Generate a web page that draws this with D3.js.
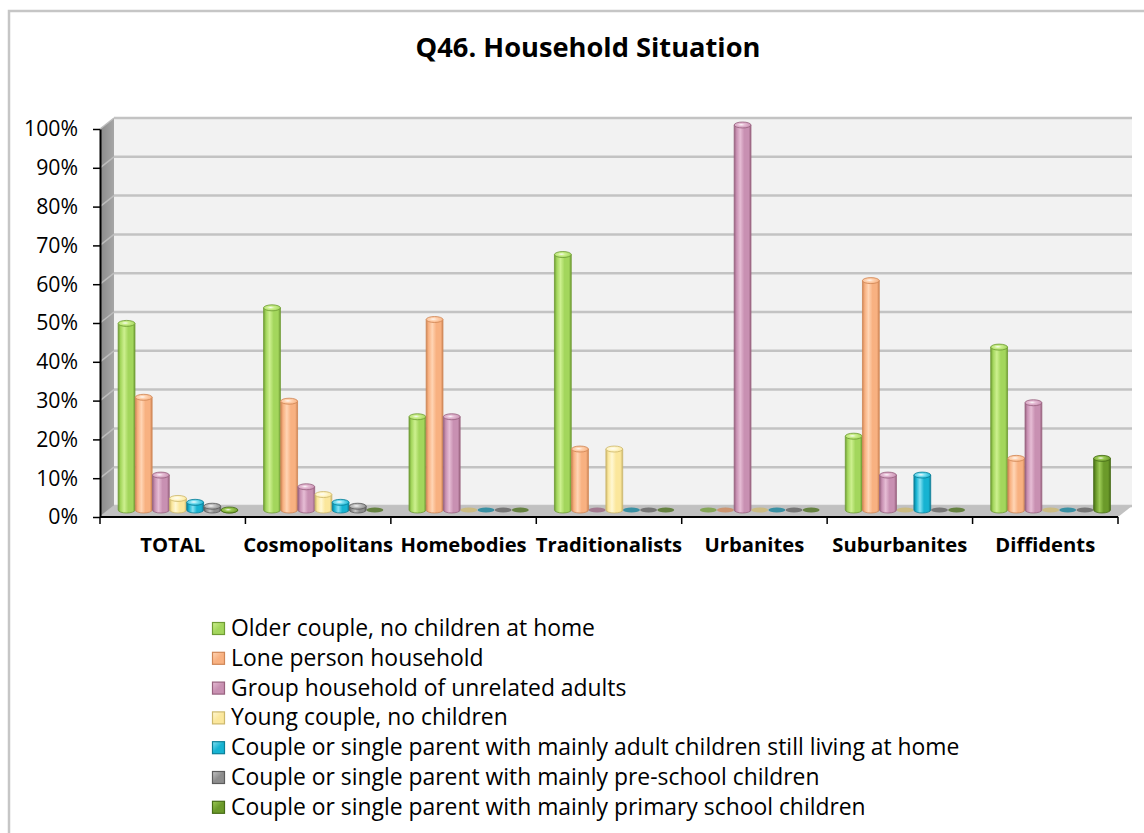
<!DOCTYPE html>
<html>
<head>
<meta charset="utf-8">
<script src="https://cdn.jsdelivr.net/npm/d3@7"></script>
<style>
  html, body { margin: 0; padding: 0; background: #ffffff; }
  svg { display: block; }
</style>
</head>
<body>
<svg id="chart" width="1144" height="833"></svg>
<script>
// ---- data -------------------------------------------------------------
const categories = ["TOTAL", "Cosmopolitans", "Homebodies", "Traditionalists", "Urbanites", "Suburbanites", "Diffidents"];

const seriesNames = [
  "Older couple, no children at home",
  "Lone person household",
  "Group household of unrelated adults",
  "Young couple, no children",
  "Couple or single parent with mainly adult children still living at home",
  "Couple or single parent with mainly pre-school children",
  "Couple or single parent with mainly primary school children"
];

// percentages per segment, in category order
const olderCouple    = [49, 53, 25, 66.7, 0, 20, 42.9];
const lonePerson     = [30, 29, 50, 16.7, 0, 60, 14.3];
const groupHousehold = [10,  7, 25, 0, 100, 10, 28.6];
const youngCouple    = [ 4,  5,  0, 16.7, 0,  0,  0];
const adultChildren  = [ 3,  3,  0, 0,    0, 10,  0];
const preSchool      = [ 2,  2,  0, 0,    0,  0,  0];
const primarySchool  = [ 1,  0,  0, 0,    0,  0, 14.3];

const seriesValues = [olderCouple, lonePerson, groupHousehold, youngCouple, adultChildren, preSchool, primarySchool];

const yTicks = [0, 0.1, 0.2, 0.3, 0.4, 0.5, 0.6, 0.7, 0.8, 0.9, 1.0];

const chartTitle = "Q46. Household Situation";

// ---- styles -----------------------------------------------------------
const palette = [
  { base: "#a3d65c", light: "#cdf08f", dark: "#6f9c34" },
  { base: "#f8b181", light: "#ffd5b5", dark: "#cf8656" },
  { base: "#c890b2", light: "#e6bdd5", dark: "#98627f" },
  { base: "#fbe79c", light: "#fff8d4", dark: "#cdb86c" },
  { base: "#16b3d2", light: "#86e2f3", dark: "#0b7f98" },
  { base: "#8d8d8d", light: "#c4c4c4", dark: "#5c5c5c" },
  { base: "#6b9a2a", light: "#9ccb55", dark: "#466c16" }
];

const FONT = "'Open Sans', 'Noto Sans', sans-serif";

const svg = d3.select("#chart");

// scale a font so that a string spans a given width
function fitSize(text, weight, width) {
  const t = svg.append("text")
    .attr("font-family", FONT).attr("font-weight", weight)
    .attr("font-size", 100).text(text);
  const w = t.node().getComputedTextLength();
  t.remove();
  return 100 * width / w;
}

// ---- geometry -----------------------------------------------------------
const plotLeft = 100, plotRight = 1118;
const depth = { dx: 14, dy: -11 };           // back wall offset
const barShift = 5.3;                          // bars sit part way into the depth
const barBase = 510;

const x0 = d3.scaleBand().domain(categories).range([plotLeft, plotRight]);
const x1 = d3.scaleBand().domain(seriesNames).range([0, x0.bandwidth()])
  .paddingInner(0.02).paddingOuter(0.75);
const y = d3.scaleLinear().domain([0, 1]).range([517, 129]);       // front plane
const yBar = d3.scaleLinear().domain([0, 100]).range([514, 125]);  // bar tops

// ---- frame ------------------------------------------------------------
svg.append("rect")
  .attr("x", 9).attr("y", 11).attr("width", 1200).attr("height", 900)
  .attr("fill", "#ffffff").attr("stroke", "#c6c6c6").attr("stroke-width", 2.5);

const defs = svg.append("defs");

const sideGrad = defs.append("linearGradient").attr("id", "sideWall")
  .attr("x1", 0).attr("x2", 1).attr("y1", 0).attr("y2", 0);
sideGrad.append("stop").attr("offset", 0).attr("stop-color", "#8a8a8a");
sideGrad.append("stop").attr("offset", 1).attr("stop-color", "#a6a6a6");

palette.forEach((p, i) => {
  const g = defs.append("linearGradient").attr("id", "body" + i)
    .attr("x1", 0).attr("x2", 1).attr("y1", 0).attr("y2", 0);
  [[0, p.dark], [0.14, p.base], [0.36, p.light], [0.6, p.base], [0.86, p.base], [1, p.dark]]
    .forEach(([o, c]) => g.append("stop").attr("offset", o).attr("stop-color", c));
  const r = defs.append("radialGradient").attr("id", "cap" + i)
    .attr("cx", 0.42).attr("cy", 0.45).attr("r", 0.6);
  r.append("stop").attr("offset", 0).attr("stop-color", "#ffffff").attr("stop-opacity", 0.9);
  r.append("stop").attr("offset", 0.35).attr("stop-color", p.light);
  r.append("stop").attr("offset", 1).attr("stop-color", p.base);
  const l = defs.append("linearGradient").attr("id", "leg" + i)
    .attr("x1", 0).attr("x2", 1).attr("y1", 0).attr("y2", 1);
  l.append("stop").attr("offset", 0).attr("stop-color", p.light);
  l.append("stop").attr("offset", 0.5).attr("stop-color", p.base);
  l.append("stop").attr("offset", 1).attr("stop-color", p.base);
});

// back wall
const backL = plotLeft + depth.dx, backR = plotRight + depth.dx;
svg.append("rect")
  .attr("x", backL).attr("y", y(1) + depth.dy)
  .attr("width", backR - backL).attr("height", y(0) - y(1))
  .attr("fill", "#f2f2f2");

// back wall gridlines
svg.append("g").selectAll("line").data(yTicks).join("line")
  .attr("x1", backL).attr("x2", backR)
  .attr("y1", d => y(d) + depth.dy).attr("y2", d => y(d) + depth.dy)
  .attr("stroke", "#c3c3c3").attr("stroke-width", 2.5);

// side wall
svg.append("polygon")
  .attr("points", [
    [plotLeft, y(1)], [backL, y(1) + depth.dy],
    [backL, y(0) + depth.dy], [plotLeft, y(0)]
  ].map(p => p.join(",")).join(" "))
  .attr("fill", "url(#sideWall)");
svg.append("g").selectAll("line").data(yTicks).join("line")
  .attr("x1", plotLeft).attr("x2", backL)
  .attr("y1", d => y(d)).attr("y2", d => y(d) + depth.dy)
  .attr("stroke", "#bdbdbd").attr("stroke-width", 1.5);

// floor
svg.append("polygon")
  .attr("points", [
    [plotLeft, y(0)], [plotRight, y(0)],
    [backR, y(0) + depth.dy], [backL, y(0) + depth.dy]
  ].map(p => p.join(",")).join(" "))
  .attr("fill", "#c1c1c1");

// ---- bars -------------------------------------------------------------
const rows = categories.flatMap((c, ci) =>
  seriesNames.map((s, si) => ({ c, s, si, v: seriesValues[si][ci] })));

const bars = svg.append("g").selectAll("g").data(rows).join("g")
  .each(function (d) {
    const g = d3.select(this);
    const w = x1.bandwidth();
    const x = x0(d.c) + x1(d.s) + barShift;
    const rx = w / 2, ry = 3;
    const cx = x + rx;
    const p = palette[d.si];
    if (d.v <= 0) {
      g.append("ellipse")
        .attr("cx", cx).attr("cy", barBase).attr("rx", rx).attr("ry", 2.6)
        .attr("fill", p.dark).attr("fill-opacity", 0.75);
      return;
    }
    const yt = Math.min(yBar(d.v), barBase);
    g.append("path")
      .attr("d", `M${x},${yt}L${x},${barBase}A${rx},${ry} 0 0 0 ${x + w},${barBase}L${x + w},${yt}Z`)
      .attr("fill", `url(#body${d.si})`)
      .attr("stroke", p.dark).attr("stroke-width", 0.8);
    g.append("ellipse")
      .attr("cx", cx).attr("cy", yt).attr("rx", rx).attr("ry", ry)
      .attr("fill", `url(#cap${d.si})`)
      .attr("stroke", p.dark).attr("stroke-width", 0.8);
  });

// ---- axes -------------------------------------------------------------
const tickSize = fitSize("100%", 400, 54);
const yAxis = svg.append("g")
  .attr("transform", `translate(${plotLeft},0)`)
  .call(d3.axisLeft(y).tickValues(yTicks).tickFormat(d3.format(".0%"))
    .tickSize(7).tickSizeOuter(0).tickPadding(15));
yAxis.select(".domain").attr("stroke", "#000").attr("stroke-width", 2);
yAxis.selectAll(".tick line").attr("stroke", "#000").attr("stroke-width", 1.5);
yAxis.selectAll(".tick text")
  .attr("font-family", FONT).attr("font-size", tickSize).attr("fill", "#000");

// category axis
svg.append("line")
  .attr("x1", plotLeft).attr("x2", plotRight).attr("y1", y(0)).attr("y2", y(0))
  .attr("stroke", "#000").attr("stroke-width", 2);
const bounds = categories.map(c => x0(c)).concat([plotRight]);
svg.append("g").selectAll("line").data(bounds).join("line")
  .attr("x1", d => d).attr("x2", d => d)
  .attr("y1", y(0)).attr("y2", y(0) + 7)
  .attr("stroke", "#000").attr("stroke-width", 1.5);

const catSize = fitSize("Cosmopolitans", 700, 150);
svg.append("g").selectAll("text").data(categories).join("text")
  .attr("x", d => x0(d) + x0.bandwidth() / 2)
  .attr("y", 552)
  .attr("text-anchor", "middle")
  .attr("font-family", FONT).attr("font-weight", 700)
  .attr("font-size", catSize).attr("fill", "#000")
  .text(d => d);

// ---- title ------------------------------------------------------------
svg.append("text")
  .attr("x", 588).attr("y", 57)
  .attr("text-anchor", "middle")
  .attr("font-family", FONT).attr("font-weight", 700)
  .attr("font-size", fitSize(chartTitle, 700, 345))
  .attr("fill", "#000")
  .text(chartTitle);

// ---- legend -----------------------------------------------------------
const legSize = fitSize(seriesNames[4], 400, 729);
const legend = svg.append("g").selectAll("g").data(seriesNames).join("g")
  .attr("transform", (d, i) => `translate(212,${636 + i * 29.8})`);
legend.append("rect")
  .attr("x", 0.5).attr("y", -13.5).attr("width", 12).attr("height", 12)
  .attr("fill", (d, i) => `url(#leg${i})`)
  .attr("stroke", (d, i) => palette[i].dark).attr("stroke-width", 1.2);
legend.append("text")
  .attr("x", 19).attr("y", 0)
  .attr("font-family", FONT).attr("font-size", legSize).attr("fill", "#000")
  .text(d => d);
</script>
</body>
</html>
